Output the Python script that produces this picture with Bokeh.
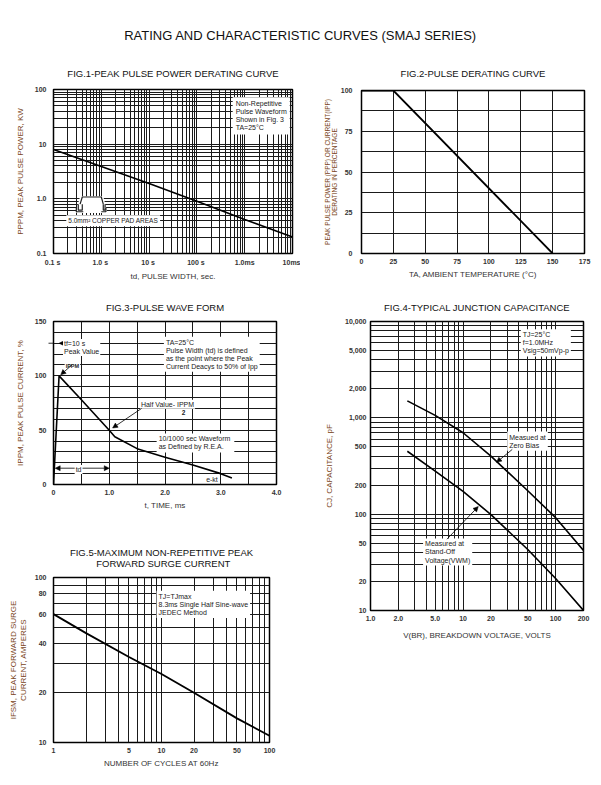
from bokeh.plotting import figure
from bokeh.layouts import column, row
from bokeh.models import Range1d, FixedTicker, Label, Arrow, NormalHead
from bokeh.core.properties import value
from bokeh.embed import file_html
from bokeh.resources import INLINE

FONT = "Liberation Sans"
YLAB_COLOR = "#7a4522"
TICK_COLOR = "#333333"
NBSP = "\u00a0"

# ---------------- data ----------------
page_title = "RATING AND CHARACTERISTIC CURVES (SMAJ SERIES)"

# Fig.1 peak pulse power vs pulse width (us -> kW)
fig1_width_us = [0.1, 1, 10, 100, 1000, 10000]
fig1_power_kw = [8.0, 3.9, 1.9, 0.9, 0.42, 0.2]
fig1_xticks = [0.1, 1, 10, 100, 1000, 10000]
fig1_xlabels = ["0.1  s", "1.0  s", "10  s", "100  s", "1.0ms", "10ms"]
fig1_yticks = [0.1, 1, 10, 100]
fig1_ylabels = ["0.1", "1.0", "10", "100"]

# Fig.2 pulse derating
fig2_temp = [0, 25, 150]
fig2_pct = [100, 100, 0]
fig2_xticks = [0, 25, 50, 75, 100, 125, 150, 175]
fig2_yticks = [0, 25, 50, 75, 100]

# Fig.3 pulse wave form
fig3_t = [0, 0.1, 0.5, 1.0, 1.1, 1.5, 2.0, 2.5, 3.0, 3.2]
fig3_i = [0, 100, 78, 50, 44, 33, 25, 18, 10, 6]
fig3_xticks = [0, 1, 2, 3, 4]
fig3_xlabels = ["0", "1.0", "2.0", "3.0", "4.0"]
fig3_yticks = [0, 50, 100, 150]

# Fig.4 junction capacitance
fig4_v = [2.5, 5, 10, 20, 50, 100, 200]
fig4_zero_bias = [1500, 1060, 700, 400, 175, 92, 42]
fig4_standoff = [450, 280, 172, 99, 43, 21.5, 10]
fig4_xticks = [1, 2, 5, 10, 20, 50, 100, 200]
fig4_xlabels = ["1.0", "2.0", "5.0", "10", "20", "50", "100", "200"]
fig4_yticks = [10, 20, 50, 100, 200, 500, 1000, 2000, 5000, 10000]
fig4_ylabels = ["10", "20", "50", "100", "200", "500", "1,000", "2,000", "5,000", "10,000"]

# Fig.5 forward surge current
fig5_cycles = [1, 2, 5, 10, 20, 50, 100]
fig5_amps = [60, 46, 33, 26, 20, 14, 11]
fig5_xticks = [1, 5, 10, 20, 50, 100]
fig5_yticks = [10, 20, 40, 60, 80, 100]


def log_grid(lo_exp, hi_exp):
    g = []
    for e in range(lo_exp, hi_exp):
        for m in range(1, 10):
            g.append(m * 10 ** e)
    g.append(10 ** hi_exp)
    return g


def make_fig(title, w, h, xr, yr, xt="linear", yt="linear", left=45, right=16, top=31,
             bottom=37, standoff=10):
    p = figure(width=w, height=h, x_range=Range1d(*xr), y_range=Range1d(*yr),
               x_axis_type=xt, y_axis_type=yt, toolbar_location=None,
               output_backend="svg", min_border_left=left, min_border_right=right,
               min_border_top=top, min_border_bottom=bottom, frame_align=False)
    p.title.text = title
    p.title.align = "center"
    p.title.text_font = FONT
    p.title.text_font_size = "9.5px"
    p.title.text_font_style = "normal"
    p.title.text_color = "#111111"
    p.title.standoff = standoff
    p.outline_line_color = "black"
    p.outline_line_width = 1.5
    p.outline_line_alpha = 1
    for ax in (p.xaxis[0], p.yaxis[0]):
        ax.axis_line_color = None
        ax.major_tick_line_color = None
        ax.minor_tick_line_color = None
        ax.major_tick_out = 0
        ax.major_tick_in = 0
        ax.major_label_text_font = FONT
        ax.major_label_text_font_size = "7px"
        ax.major_label_text_font_style = "bold"
        ax.major_label_text_color = TICK_COLOR
        ax.axis_label_text_font = FONT
        ax.axis_label_text_font_size = "8px"
        ax.axis_label_text_font_style = "normal"
    p.xaxis.major_label_standoff = 5
    p.yaxis.major_label_standoff = 7
    p.xaxis.axis_label_standoff = 3
    p.yaxis.axis_label_standoff = 7
    p.xaxis.axis_label_text_color = "#333333"
    p.yaxis.axis_label_text_color = YLAB_COLOR
    for g in (p.xgrid[0], p.ygrid[0]):
        g.grid_line_color = "#1a1a1a"
        g.grid_line_width = 1
        g.grid_line_alpha = 1
    return p


def set_ticks(axis, ticks, labels=None):
    axis.ticker = FixedTicker(ticks=ticks)
    if labels is None:
        labels = [str(t) for t in ticks]
    axis.major_label_overrides = {t: l for t, l in zip(ticks, labels)}


def box_label(p, x, y, text, size="7px", bg="white", align="left", pad=2, style="normal"):
    lab = Label(x=x, y=y, text=text, text_font=FONT, text_font_size=size,
                text_align=align, text_baseline="top", text_color="#222222",
                text_font_style=style, text_line_height=1.15,
                background_fill_color=bg, background_fill_alpha=1 if bg else 0,
                padding=pad)
    p.add_layout(lab)
    return lab


def arrow(p, x0, y0, x1, y1):
    head = NormalHead(size=5, fill_color="black", line_color="black", line_width=0.5)
    p.add_layout(Arrow(end=head, x_start=x0, y_start=y0, x_end=x1, y_end=y1,
                       line_width=0.8, line_color="black"))


# ---------------- header ----------------
hdr = figure(width=600, height=54, x_range=Range1d(0, 1), y_range=Range1d(0, 1),
             toolbar_location=None, output_backend="svg", x_axis_location=None,
             y_axis_location=None, min_border=0, frame_align=False)
hdr.outline_line_color = None
hdr.grid.visible = False
hdr.text(x=[0.5], y=[0.352], text=[page_title], text_font=value(FONT),
         text_font_size="13px", text_align="center", text_baseline="middle",
         text_color="#111111")

# ---------------- Fig.1 ----------------
f1 = make_fig("FIG.1-PEAK PULSE POWER DERATING CURVE", 300, 236, (0.1, 10000), (0.1, 100),
              "log", "log", left=53, right=8, top=35, bottom=37, standoff=21)
set_ticks(f1.xaxis[0], fig1_xticks, fig1_xlabels)
set_ticks(f1.yaxis[0], fig1_yticks, fig1_ylabels)
f1.xgrid[0].ticker = FixedTicker(ticks=log_grid(-1, 4))
f1.ygrid[0].ticker = FixedTicker(ticks=log_grid(-1, 2))
f1.xaxis.axis_label = "td, PULSE WIDTH, sec."
f1.yaxis.axis_label = "PPPM, PEAK PULSE POWER, KW"
f1.line(fig1_width_us, fig1_power_kw, line_color="black", line_width=1.6)
box_label(f1, 560, 72, "Non-Repetitive\nPulse Waveform\nShown in Fig. 3\nTA=25°C", pad=3)
# pad icon
f1.patch([0.3, 0.36, 1.1, 1.3, 1.3, 0.3], [0.62, 1.12, 1.12, 0.62, 0.55, 0.55],
         fill_color="white", line_color=None)
f1.multi_line([[0.36, 0.4, 1.0, 1.1], [0.33, 0.33, 0.4, 0.4], [1.1, 1.1, 1.2, 1.2], [0.3, 0.3, 0.42], [1.0, 1.25, 1.25]],
              [[0.8, 1.08, 1.08, 0.8], [0.8, 0.62, 0.62, 0.8], [0.8, 0.62, 0.62, 0.8], [0.68, 0.58, 0.58], [0.58, 0.58, 0.68]],
              line_color="#222222", line_width=1.2)
box_label(f1, 0.185, 0.5, "5.0mm² COPPER PAD AREAS", size="6.5px", pad=2)

# ---------------- Fig.2 ----------------
f2 = make_fig("FIG.2-PULSE DERATING CURVE", 300, 236, (0, 175), (0, 100),
              left=61, right=16, top=36, bottom=37, standoff=22.5)
set_ticks(f2.xaxis[0], fig2_xticks)
set_ticks(f2.yaxis[0], fig2_yticks)
f2.xgrid[0].ticker = FixedTicker(ticks=fig2_xticks)
f2.ygrid[0].ticker = FixedTicker(ticks=[0, 12.5, 25, 37.5, 50, 62.5, 75, 87.5, 100])
f2.xaxis.axis_label = "TA, AMBIENT TEMPERATURE (°C)"
f2.yaxis.axis_label = "PEAK PULSE POWER (PPP) OR CURRENT(IPP)\nDERATING IN PERCENTAGE"
f2.yaxis.axis_label_text_font_size = "6.5px"
f2.yaxis.axis_label_text_line_height = 1.0
f2.yaxis.major_label_standoff = 9
f2.yaxis.axis_label_standoff = 0
f2.line(fig2_temp, fig2_pct, line_color="black", line_width=1.8)

# ---------------- Fig.3 ----------------
f3 = make_fig("FIG.3-PULSE WAVE FORM", 300, 240, (0, 4), (0, 150),
              left=53, right=24, top=31, bottom=46, standoff=18)
set_ticks(f3.xaxis[0], fig3_xticks, fig3_xlabels)
set_ticks(f3.yaxis[0], fig3_yticks)
f3.xgrid[0].ticker = FixedTicker(ticks=[0.5 * i for i in range(9)])
f3.ygrid[0].ticker = FixedTicker(ticks=list(range(0, 151, 10)))
f3.xaxis.axis_label = "t, TIME, ms"
f3.yaxis.axis_label = "IPPM, PEAK PULSE CURRENT, %"
f3.line(fig3_t, fig3_i, line_color="black", line_width=1.6)
arrow(f3, -0.15, 130, 0.0, 130)
arrow(f3, 0.3, 130, 0.1, 130)
box_label(f3, 0.17, 134, "tf=10  s\nPeak Value", pad=1)
box_label(f3, 0.2, 113, "IPPM", size="5.5px", pad=1, style="bold")
arrow(f3, 0.33, 110, 0.13, 101)
box_label(f3, 1.98, 136, "TA=25°C\nPulse Width (td) is defined\nas the point where the Peak\nCurrent Deacys to 50% of Ipp", pad=2)
box_label(f3, 1.55, 78, "Half Value- IPPM", pad=1)
box_label(f3, 2.3, 69, "2", size="6.5px", pad=0, style="bold", bg=None)
arrow(f3, 1.58, 70, 1.06, 52)
box_label(f3, 1.85, 47, "10/1000  sec Waveform\nas Defined by R.E.A.", pad=2)
arrow(f3, 0.5, 15, 0.03, 15)
arrow(f3, 0.5, 15, 1.0, 15)
box_label(f3, 0.45, 18, "td", pad=1, align="center")
box_label(f3, 2.72, 9, "e-kt", pad=1, bg=None)

# ---------------- Fig.4 ----------------
f4 = make_fig("FIG.4-TYPICAL JUNCTION CAPACITANCE", 300, 352, (1, 200), (10, 10000),
              "log", "log", left=70, right=17, top=31, bottom=30, standoff=18)
set_ticks(f4.xaxis[0], fig4_xticks, fig4_xlabels)
set_ticks(f4.yaxis[0], fig4_yticks, fig4_ylabels)
f4.xgrid[0].ticker = FixedTicker(ticks=log_grid(0, 2) + [200])
f4.ygrid[0].ticker = FixedTicker(ticks=log_grid(1, 4))
f4.xaxis.axis_label = "V(BR), BREAKDOWN VOLTAGE, VOLTS"
f4.xaxis.axis_label_standoff = 7
f4.yaxis.axis_label = "CJ, CAPACITANCE, pF"
f4.yaxis.major_label_standoff = 4
f4.yaxis.axis_label_standoff = 8
f4.line(fig4_v, fig4_zero_bias, line_color="black", line_width=1.6)
f4.line(fig4_v, fig4_standoff, line_color="black", line_width=1.6)
box_label(f4, 42, 8300, "TJ=25°C\nf=1.0MHz\nVsig=50mVp-p", pad=2)
box_label(f4, 30, 720, "Measued at\nZero Bias", pad=2)
arrow(f4, 34, 470, 23, 345)
box_label(f4, 3.7, 56, "Measured at\nStand-Off\nVoltage(VWM)", pad=2)
arrow(f4, 6.7, 55, 14.6, 120)

# ---------------- Fig.5 ----------------
f5 = make_fig("FIG.5-MAXIMUM NON-REPETITIVE PEAK\n" + NBSP * 10 + "FORWARD SURGE CURRENT",
              300, 247, (1, 100), (10, 100),
              "log", "log", left=53, right=31, top=47, bottom=35, standoff=17)
set_ticks(f5.xaxis[0], fig5_xticks)
set_ticks(f5.yaxis[0], fig5_yticks)
f5.xgrid[0].ticker = FixedTicker(ticks=log_grid(0, 2))
f5.ygrid[0].ticker = FixedTicker(ticks=list(range(10, 101, 10)))
f5.xaxis.axis_label = "NUMBER OF CYCLES AT 60Hz"
f5.yaxis.axis_label = "IFSM, PEAK FORWARD SURGE\nCURRENT, AMPERES"
f5.yaxis.axis_label_standoff = 4
f5.yaxis.axis_label_text_line_height = 1.1
f5.line(fig5_cycles, fig5_amps, line_color="black", line_width=1.8)
box_label(f5, 9.0, 83, "TJ=TJmax\n8.3ms Single Half Sine-wave\nJEDEC Method", pad=2)

layout = column(hdr, row(column(f1, f3, f5), column(f2, f4)))

with open("out.html", "w") as fh:
    fh.write(file_html(layout, INLINE))
